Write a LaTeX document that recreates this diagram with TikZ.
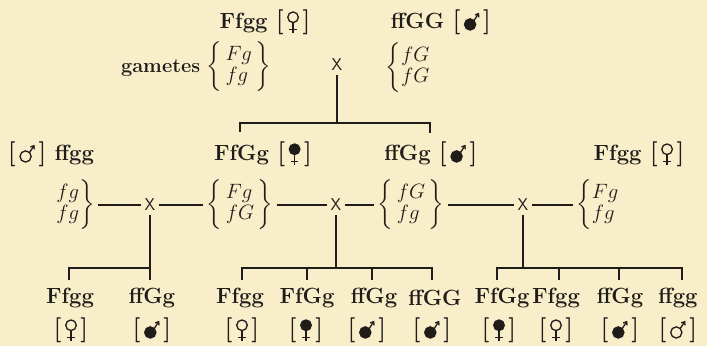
\documentclass[tikz,border=0pt]{standalone}
\usepackage{amsmath}
\usetikzlibrary{arrows.meta}
\definecolor{paper}{RGB}{248,238,202}
\definecolor{ink}{RGB}{32,28,25}
\newcommand\femsym[1]{\tikz[x=1pt,y=1pt,baseline=0pt,line width=1.3pt,color=ink]{\draw[fill=#1] (0,11) circle (5.3); \draw (0,5.7)--(0,-5); \draw (-3.8,-1)--(3.8,-1);}}
\newcommand\malsym[1]{\tikz[x=1pt,y=1pt,baseline=0pt,line width=1.3pt,color=ink]{\draw[fill=#1] (0,3.8) circle (5.6); \draw[-{Straight Barb[length=3pt,width=4.5pt]}] (4,7.8)--(9,15.5);}}
\newcommand\sx[1]{{\fontsize{25}{25}\selectfont[}\hspace{3.5pt}#1\hspace{3.5pt}{\fontsize{25}{25}\selectfont]}}
\begin{document}
\begin{tikzpicture}[x=1pt,y=-1pt,line width=1.3pt,color=ink,
  lab/.style={font=\fontsize{22}{24}\selectfont\bfseries,inner sep=1pt},
  gam/.style={font=\fontsize{21}{21}\selectfont,inner sep=3pt},
  cross/.style={font=\sffamily\fontsize{17}{17}\selectfont,inner sep=3.5pt}]
\fill[paper] (0,0) rectangle (707,346);
\useasboundingbox (0,0) rectangle (707,346);
% parents
\node[lab] (p1) at (265,22) {Ffgg \sx{\femsym{none}}};
\node[lab] (p2) at (441,22) {ffGG \sx{\malsym{ink}}};
\node[gam] (g0) at (196,67) {{\fontsize{20}{21}\selectfont\bfseries gametes} $\left\{\,\begin{array}{@{}l@{}}Fg\\ fg\end{array}\,\right\}$};
\node[cross] (x0) at (337,65) {X};
\node[gam] (h0) at (408,68) {$\left\{\begin{array}{@{}l@{}}fG\\ fG\end{array}\right.$};
\coordinate (t0) at (337,123);
\coordinate (t0L) at (240,123);
\coordinate (t0R) at (430,123);
\coordinate (t0Le) at (240,132);
\coordinate (t0Re) at (430,133);
\draw (x0) -- (t0);
\draw (t0Le) -- (t0L) -- (t0R) -- (t0Re);
% row 2
\node[lab] (m1) at (51,154) {\sx{\malsym{none}} ffgg};
\node[lab] (f1) at (263,154) {FfGg \sx{\femsym{ink}}};
\node[lab] (f2) at (431,154) {ffGg \sx{\malsym{ink}}};
\node[lab] (f3) at (639,154) {Ffgg \sx{\femsym{none}}};
% row 3
\node[gam] (g1) at (75,205) {$\left.\begin{array}{@{}r@{}}fg\\ fg\end{array}\right\}$};
\node[cross] (x1) at (150,205) {X};
\node[gam] (g2) at (240,205) {$\left\{\,\begin{array}{@{}l@{}}Fg\\ fG\end{array}\,\right\}$};
\node[cross] (x2) at (336,205) {X};
\node[gam] (g3) at (411,205) {$\left\{\,\begin{array}{@{}l@{}}fG\\ fg\end{array}\,\right\}$};
\node[cross] (x3) at (523,205) {X};
\node[gam] (g4) at (598,205) {$\left\{\begin{array}{@{}l@{}}Fg\\ fg\end{array}\right.$};
\draw (g1) -- (x1) -- (g2) -- (x2) -- (g3) -- (x3) -- (g4);
% bottom brackets
\coordinate (e1) at (150,280);
\coordinate (h1L) at (69,268);
\coordinate (h1R) at (150,268);
\coordinate (b1L) at (69,280);
\draw (x1) -- (e1);
\draw (b1L) -- (h1L) -- (h1R);
\coordinate (h2) at (336,268);
\coordinate (h2a) at (242,268);
\coordinate (h2b) at (307,268);
\coordinate (h2c) at (372,268);
\coordinate (h2d) at (432,268);
\coordinate (b2a) at (242,280);
\coordinate (b2b) at (307,280);
\coordinate (b2c) at (372,280);
\coordinate (b2d) at (432,280);
\draw (x2) -- (h2);
\draw (b2a) -- (h2a) -- (h2d) -- (b2d);
\draw (h2b) -- (b2b);
\draw (h2c) -- (b2c);
\coordinate (h3) at (523,268);
\coordinate (h3a) at (497,268);
\coordinate (h3b) at (559,268);
\coordinate (h3c) at (619,268);
\coordinate (h3d) at (682,268);
\coordinate (b3a) at (497,280);
\coordinate (b3b) at (559,280);
\coordinate (b3c) at (619,280);
\coordinate (b3d) at (682,280);
\draw (x3) -- (h3);
\draw (b3a) -- (h3a) -- (h3d) -- (b3d);
\draw (h3b) -- (b3b);
\draw (h3c) -- (b3c);
% offspring
\node[lab] (c1) at (70,298) {Ffgg};
\node[lab] (c2) at (152,298) {ffGg};
\node[lab] (c3) at (240,298) {Ffgg};
\node[lab] (c4) at (307,298) {FfGg};
\node[lab] (c5) at (374,298) {ffGg};
\node[lab] (c6) at (435,298) {ffGG};
\node[lab] (c7) at (502,298) {FfGg};
\node[lab] (c8) at (556,298) {Ffgg};
\node[lab] (c9) at (620,298) {ffGg};
\node[lab] (c10) at (678,298) {ffgg};
\node[lab] (s1) at (71,330) {\sx{\femsym{none}}};
\node[lab] (s2) at (152,330) {\sx{\malsym{ink}}};
\node[lab] (s3) at (242,330) {\sx{\femsym{none}}};
\node[lab] (s4) at (306,330) {\sx{\femsym{ink}}};
\node[lab] (s5) at (367,330) {\sx{\malsym{ink}}};
\node[lab] (s6) at (432,330) {\sx{\malsym{ink}}};
\node[lab] (s7) at (499,330) {\sx{\femsym{ink}}};
\node[lab] (s8) at (556,330) {\sx{\femsym{none}}};
\node[lab] (s9) at (620,330) {\sx{\malsym{ink}}};
\node[lab] (s10) at (678,330) {\sx{\malsym{none}}};
\end{tikzpicture}
\end{document}
